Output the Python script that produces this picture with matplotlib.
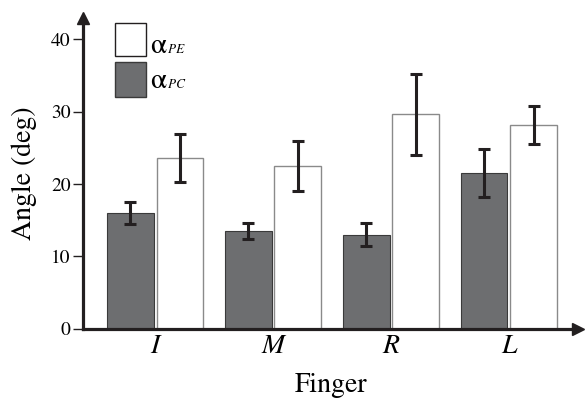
import matplotlib.pyplot as plt
import numpy as np
from matplotlib.patches import Rectangle

plt.rcParams['font.family'] = ['STIXGeneral', 'DejaVu Serif']
plt.rcParams['mathtext.fontset'] = 'stix'

# Dados
dedos = ['I', 'M', 'R', 'L']
alpha_pc = [16.0, 13.5, 13.0, 21.5]
erro_pc = [1.5, 1.1, 1.55, 3.3]
alpha_pe = [23.6, 22.5, 29.6, 28.1]
erro_pe = [3.3, 3.4, 5.6, 2.6]

preto = '#231f20'
cinza = '#6d6e70'

fig = plt.figure(figsize=(5.85, 4.03), dpi=100)
ax = fig.add_axes([0.142, 0.184, 0.846, 0.771])

x = np.arange(len(dedos))
larg = 0.395
desl = 0.21

ax.bar(x - desl, alpha_pc, larg, color=cinza, edgecolor='#3a3a3a', linewidth=0.8, zorder=2)
ax.bar(x + desl, alpha_pe, larg, color='white', edgecolor='#8a8a8a', linewidth=1.0, zorder=2)
ax.errorbar(x - desl, alpha_pc, yerr=erro_pc, fmt='none', ecolor=preto,
            elinewidth=2.2, capsize=4.5, capthick=2.2, zorder=3)
ax.errorbar(x + desl, alpha_pe, yerr=erro_pe, fmt='none', ecolor=preto,
            elinewidth=2.2, capsize=4.5, capthick=2.2, zorder=3)

ax.set_xlim(-0.61, 3.585)
ax.set_ylim(0, 42.9)
ax.set_yticks([0, 10, 20, 30, 40])
ax.set_xticks(x)
ax.set_xticklabels(dedos, fontstyle='italic', fontsize=20)
ax.tick_params(axis='x', length=0, pad=4)
ax.tick_params(axis='y', length=7, width=1.0, color=preto, labelsize=14, pad=2)

for s in ['top', 'right']:
    ax.spines[s].set_visible(False)
for s in ['left', 'bottom']:
    ax.spines[s].set_linewidth(2.3)
    ax.spines[s].set_color(preto)

# Setas nos eixos
ax.plot(1, 0, '>', color=preto, markersize=9, transform=ax.transAxes, clip_on=False)
ax.plot(0, 1, '^', color=preto, markersize=9, transform=ax.transAxes, clip_on=False)

ax.set_xlabel('Finger', fontsize=20, labelpad=10)
ax.set_ylabel('Angle (deg)', fontsize=20, labelpad=10)

# Legenda manual (caixas + alfa com subscrito pequeno)
ax.add_patch(Rectangle((0.065, 0.879), 0.0626, 0.106, transform=ax.transAxes,
                       facecolor='white', edgecolor=preto, linewidth=1.0, clip_on=False))
ax.add_patch(Rectangle((0.065, 0.747), 0.0626, 0.1126, transform=ax.transAxes,
                       facecolor=cinza, edgecolor='#3a3a3a', linewidth=1.0, clip_on=False))
ax.text(0.136, 0.889, 'α', transform=ax.transAxes, fontsize=21, va='baseline', ha='left')
ax.text(0.171, 0.889, 'PE', transform=ax.transAxes, fontsize=9.5, fontstyle='italic',
        va='baseline', ha='left')
ax.text(0.136, 0.776, 'α', transform=ax.transAxes, fontsize=21, va='baseline', ha='left')
ax.text(0.171, 0.776, 'PC', transform=ax.transAxes, fontsize=9.5, fontstyle='italic',
        va='baseline', ha='left')

plt.savefig('out.png', dpi=100)
